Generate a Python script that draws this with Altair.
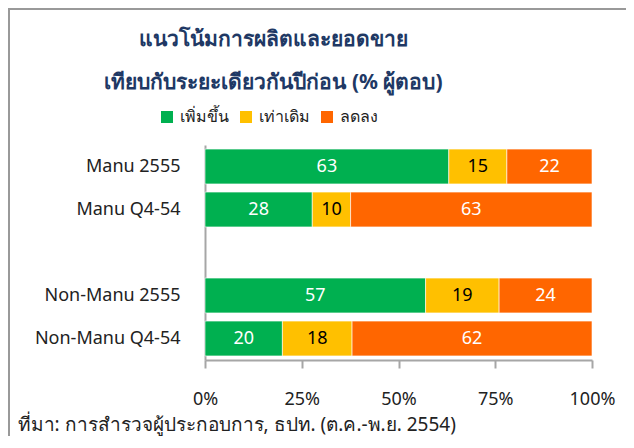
import altair as alt
import pandas as pd

categories = ["Manu 2555", "Manu Q4-54", "Non-Manu 2555", "Non-Manu Q4-54"]
domain_y = ["Manu 2555", "Manu Q4-54", " ", "Non-Manu 2555", "Non-Manu Q4-54"]
statuses = ["เพิ่มขึ้น", "เท่าเดิม", "ลดลง"]
colors = ["#00B050", "#FFC000", "#FF6600"]
increase = [63, 28, 57, 20]
same = [15, 10, 19, 18]
decrease = [22, 63, 24, 62]

rows = []
for i, c in enumerate(categories):
    for j, (s, v) in enumerate(zip(statuses, [increase[i], same[i], decrease[i]])):
        rows.append({"cat": c, "status": s, "value": v, "ord": j})
df = pd.DataFrame(rows)

FONT = "Noto Sans"
W, H = 387, 215
PL, PT = 197, 137
SW, SH = 618, 428

base = alt.Chart(df).transform_stack(
    stack="value", groupby=["cat"], as_=["x0", "x1"],
    offset="normalize", sort=[alt.SortField("ord", order="ascending")]
).transform_calculate(mid="(datum.x0 + datum.x1) / 2")

y_enc = alt.Y("cat:N", scale=alt.Scale(domain=domain_y, paddingInner=0.19, paddingOuter=0.095),
              axis=alt.Axis(title=None, ticks=False, labelPadding=25, labelFontSize=18,
                            labelFont=FONT, labelColor="#222222", domainColor="#A6A6A6",
                            domainWidth=2))

bars = base.mark_bar(stroke="#ffffff", strokeWidth=1, strokeOpacity=0.6).encode(
    x=alt.X("x0:Q", scale=alt.Scale(domain=[0, 1], nice=False),
            axis=alt.Axis(format=".0%", values=[0, 0.25, 0.5, 0.75, 1], grid=False,
                          tickSize=8, tickColor="#A6A6A6", tickWidth=2,
                          domainColor="#A6A6A6", domainWidth=2, labelFlush=False,
                          labelPadding=22, labelFontSize=18, labelFont=FONT,
                          labelColor="#222222",
                          title="ที่มา: การสำรวจผู้ประกอบการ, ธปท. (ต.ค.-พ.ย. 2554)",
                          titleX=-188, titleY=64, titleAlign="left", titleAnchor="start",
                          titleBaseline="middle", titleFontSize=19, titleFontWeight="normal",
                          titleFont=FONT, titleColor="#222222")),
    x2="x1:Q",
    y=y_enc,
    color=alt.Color("status:N", scale=alt.Scale(domain=statuses, range=colors),
                    legend=alt.Legend(title=None, orient="none", direction="horizontal",
                                      legendX=-46, legendY=-36, symbolType="square",
                                      symbolSize=144, symbolStrokeWidth=0,
                                      labelFontSize=16, labelFont=FONT,
                                      labelColor="#222222", labelOffset=5,
                                      columnPadding=9)),
)

labels = base.mark_text(fontSize=18, font=FONT).encode(
    x="mid:Q",
    y=alt.Y("cat:N", scale=alt.Scale(domain=domain_y)),
    text="value:Q",
    color=alt.condition(alt.datum.status == "เท่าเดิม", alt.value("#000000"), alt.value("#ffffff")),
)

one = alt.Data(values=[{}])
frame_left = alt.Chart(one).mark_rule(color="#999999", strokeWidth=2).encode(
    x=alt.value(-PL + 1), y=alt.value(-PT), y2=alt.value(SH - PT))
frame_top = alt.Chart(one).mark_rule(color="#999999", strokeWidth=2).encode(
    x=alt.value(-PL), x2=alt.value(SW - PL), y=alt.value(-PT + 1))

chart = alt.layer(bars, labels, frame_left, frame_top).properties(
    width=W, height=H,
    autosize=alt.AutoSizeParams(type="none"),
    padding={"left": PL, "top": PT, "right": SW - PL - W, "bottom": SH - PT - H},
    title=alt.TitleParams(
        text=["แนวโน้มการผลิตและยอดขาย", "เทียบกับระยะเดียวกันปีก่อน (% ผู้ตอบ)"],
        fontSize=21, fontWeight="bold", color="#203864", font=FONT,
        lineHeight=43, anchor="middle", dx=-125, offset=-86),
).configure_view(stroke=None)

chart.save("out.html", embed_options={"renderer": "svg", "actions": False})
